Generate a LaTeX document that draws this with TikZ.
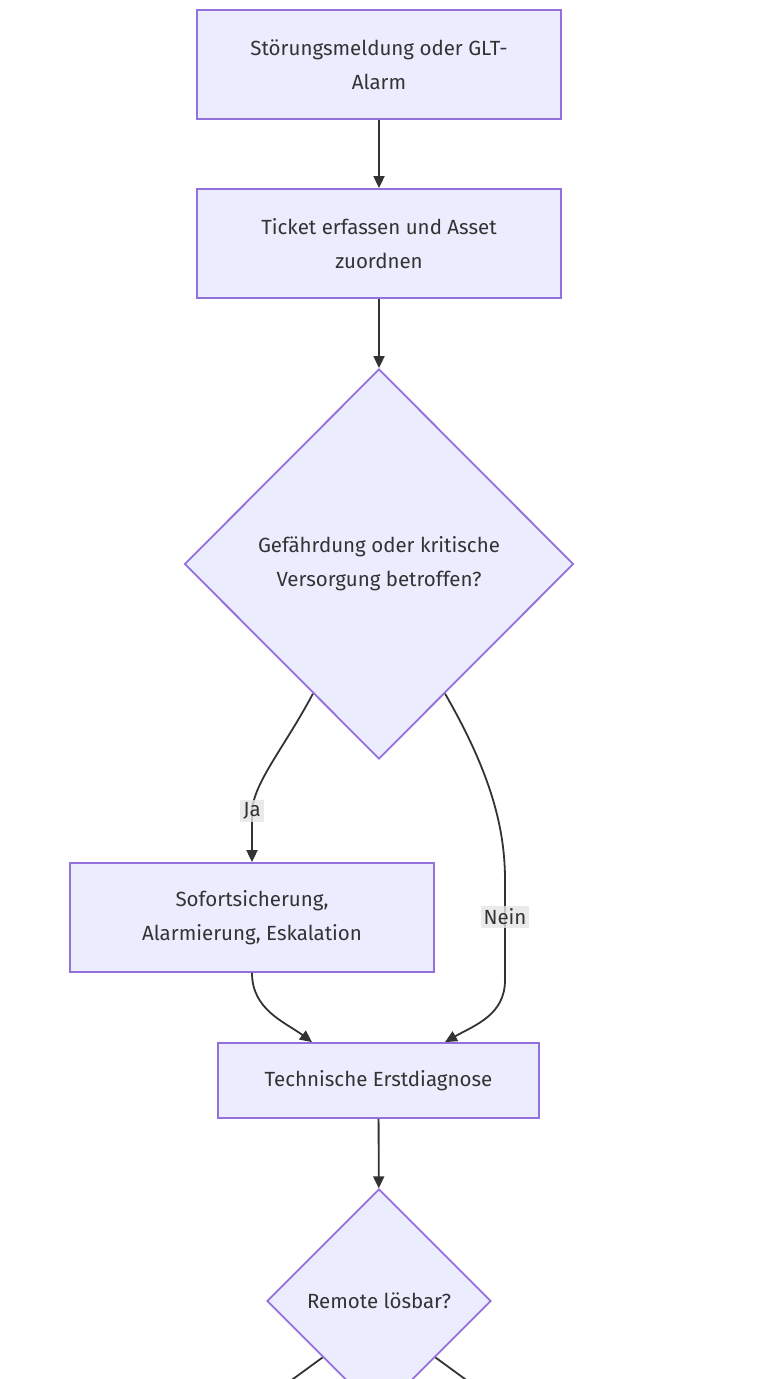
\documentclass[tikz,border=0pt]{standalone}
\usepackage{fontspec}
\setmainfont{Fira Sans}
\usetikzlibrary{arrows.meta}
\usetikzlibrary{shapes.geometric}
\definecolor{boxfill}{HTML}{ECECFF}
\definecolor{boxline}{HTML}{9370DB}
\definecolor{ink}{HTML}{333333}
\tikzset{box/.style = {draw = boxline, fill = boxfill, line width = 1.8pt,
                       text = ink, align = center, inner sep = 0,
                       font = \fontsize{20.5}{34}\selectfont}}
\tikzset{decision/.style = {box, diamond, aspect = 1}}
\tikzset{flow/.style = {draw = ink, line width = 1.8pt,
                        -{Triangle[length = 12pt, width = 11pt]}}}
\tikzset{lbl/.style = {fill = black!10, fill opacity = 0.8, text opacity = 1,
                       text = ink, inner sep = 3pt,
                       font = \fontsize{20.5}{24}\selectfont}}

\begin{document}
\begin{tikzpicture}[x = 1pt, y = -1pt]
    \useasboundingbox (0, 0) rectangle (769, 1379);
    \clip (0, 0) rectangle (769, 1379);
    \node (s1) at (379, 64.5) [box, minimum width = 364, minimum height = 109] {St\"orungsmeldung oder GLT-\\Alarm};
    \node (s2) at (379, 243.5) [box, minimum width = 364, minimum height = 109] {Ticket erfassen und Asset\\zuordnen};
    \node (d1) at (379, 564) [decision, minimum width = 389, minimum height = 390] {Gef\"ahrdung oder kritische\\Versorgung betroffen?};
    \node (s3) at (252, 917.5) [box, minimum width = 364, minimum height = 109] {Sofortsicherung,\\Alarmierung, Eskalation};
    \node (s4) at (378.5, 1080.5) [box, minimum width = 321, minimum height = 75] {Technische Erstdiagnose};
    \node (d2) at (379, 1301) [decision, minimum width = 224, minimum height = 224] {Remote l\"osbar?};
    \coordinate (out1) at (230, 1425);
    \coordinate (out2) at (528, 1425);
    \draw [flow] (s1) -- (s2);
    \draw [flow] (s2) -- (d1);
    \draw [flow] (d1.-117) .. controls (284, 748) and (254, 782) .. (252, 811)
        node [lbl] {Ja} -- (s3.north);
    \draw [flow] (d1.-63) .. controls (492, 775) and (505, 830) .. (505, 880) -- (505, 917)
        node [lbl] {Nein} -- (505, 980) .. controls (505, 1015) and (475, 1025) .. ([xshift = 66.5pt] s4.north);
    \draw [flow] (s3.south) .. controls (252, 1010) and (285, 1022) .. ([xshift = -66.5pt] s4.north);
    \draw [flow] (s4) -- (d2);
    \draw [flow] (d2.south west) -- (out1);
    \draw [flow] (d2.south east) -- (out2);
\end{tikzpicture}
\end{document}
